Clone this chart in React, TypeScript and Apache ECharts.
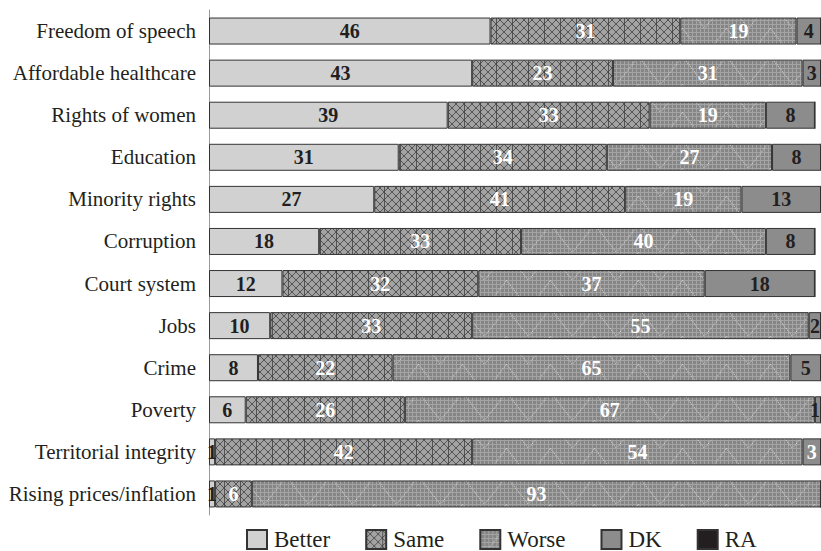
import React, { useEffect, useRef } from "react";
import * as echarts from "echarts";

const categories = [
  "Freedom of speech",
  "Affordable healthcare",
  "Rights of women",
  "Education",
  "Minority rights",
  "Corruption",
  "Court system",
  "Jobs",
  "Crime",
  "Poverty",
  "Territorial integrity",
  "Rising prices/inflation",
];
const better = [46, 43, 39, 31, 27, 18, 12, 10, 8, 6, 1, 1];
const same = [31, 23, 33, 34, 41, 33, 32, 33, 22, 26, 42, 6];
const worse = [19, 31, 19, 27, 19, 40, 37, 55, 65, 67, 54, 93];
const dk = [4, 3, 8, 8, 13, 8, 18, 2, 5, 1, 3, 0];
const ra = [0, 0, 0, 0, 0, 0, 0, 0, 0, 0, 0, 0];

const FONT = "'Liberation Serif', 'Times New Roman', serif";
const DARK = "#231f20";

function samePattern() {
  const c = document.createElement("canvas");
  c.width = 16;
  c.height = 8;
  const g = c.getContext("2d")!;
  g.fillStyle = "#a3a3a3";
  g.fillRect(0, 0, 16, 8);
  g.strokeStyle = "#404040";
  g.lineWidth = 0.8;
  g.beginPath();
  for (let k = 0; k < 2; k++) {
    const ox = k * 8;
    g.moveTo(ox, 0);
    g.lineTo(ox + 8, 8);
    g.moveTo(ox + 8, 0);
    g.lineTo(ox, 8);
  }
  g.moveTo(0.5, 0);
  g.lineTo(0.5, 8);
  g.stroke();
  return { image: c, repeat: "repeat", imageWidth: 16, imageHeight: 8 };
}

function worsePattern() {
  const w = 44;
  const h = 28;
  const c = document.createElement("canvas");
  c.width = w;
  c.height = h;
  const g = c.getContext("2d")!;
  g.fillStyle = "#858585";
  g.fillRect(0, 0, w, h);
  g.fillStyle = "#a4a4a4";
  for (let x = 0; x < w; x += 4) g.fillRect(x, 0, 1, h);
  for (let y = 0; y < h; y += 4) g.fillRect(0, y, w, 1);
  g.fillStyle = "#cfcfcf";
  for (let t = 0; t <= 1; t += 0.06) {
    const y = h - t * h;
    g.fillRect(t * 22, y, 1, 1);
    g.fillRect(22 + t * 22, h - y, 1, 1);
  }
  return { image: c, repeat: "repeat", imageWidth: w, imageHeight: h };
}

export default function App() {
  const ref = useRef<HTMLDivElement>(null);
  useEffect(() => {
    if (!ref.current) return;
    const chart = echarts.init(ref.current, null, { renderer: "svg" });
    const labelBase = {
      show: true,
      position: "inside",
      fontFamily: FONT,
      fontWeight: "bold",
      fontSize: 20,
      formatter: (p: any) => (p.value > 0 ? String(p.value) : ""),
    };
    const mk = (
      name: string,
      data: number[],
      color: any,
      labelColor: string | ((i: number) => string),
      offsets?: Record<number, number[]>
    ) => ({
      name,
      type: "bar",
      stack: "total",
      barWidth: 27,
      data: data.map((v, i) => ({
        value: v,
        label: {
          color: typeof labelColor === "string" ? labelColor : labelColor(i),
          offset: offsets && offsets[i] ? offsets[i] : [0, 0],
        },
      })),
      itemStyle: { color, borderColor: "#333333", borderWidth: 1 },
      label: { ...labelBase },
      emphasis: { disabled: true },
    });
    chart.setOption({
      animation: false,
      grid: { left: 209, top: 10, width: 612, height: 505 },
      xAxis: {
        type: "value",
        min: 0,
        max: 100,
        show: false,
      },
      yAxis: {
        type: "category",
        data: categories,
        inverse: true,
        axisLine: { show: true, lineStyle: { color: "#9a9a9a", width: 1 } },
        axisTick: { show: false },
        axisLabel: { fontFamily: FONT, fontSize: 21, color: DARK, margin: 13 },
      },
      legend: {
        left: 246,
        top: 528,
        padding: 0,
        itemWidth: 20,
        itemHeight: 19,
        itemGap: 35,
        icon: "rect",
        textStyle: { fontFamily: FONT, fontSize: 23, color: DARK, padding: [0, 0, 0, 2] },
        data: ["Better", "Same", "Worse", "DK", "RA"],
      },
      series: [
        mk("Better", better, "#d1d1d1", DARK),
        mk("Same", same, samePattern(), "#ffffff"),
        mk("Worse", worse, worsePattern(), "#ffffff"),
        mk("DK", dk, "#8c8c8c", (i) => (i === 10 ? "#ffffff" : DARK), { 9: [-3, 0] }),
        mk("RA", ra, "#231f20", "#ffffff"),
      ],
    });
    return () => chart.dispose();
  }, []);
  return (
    <div
      ref={ref}
      style={{ position: "absolute", left: 0, top: 0, width: 821, height: 551, background: "#fff" }}
    />
  );
}
